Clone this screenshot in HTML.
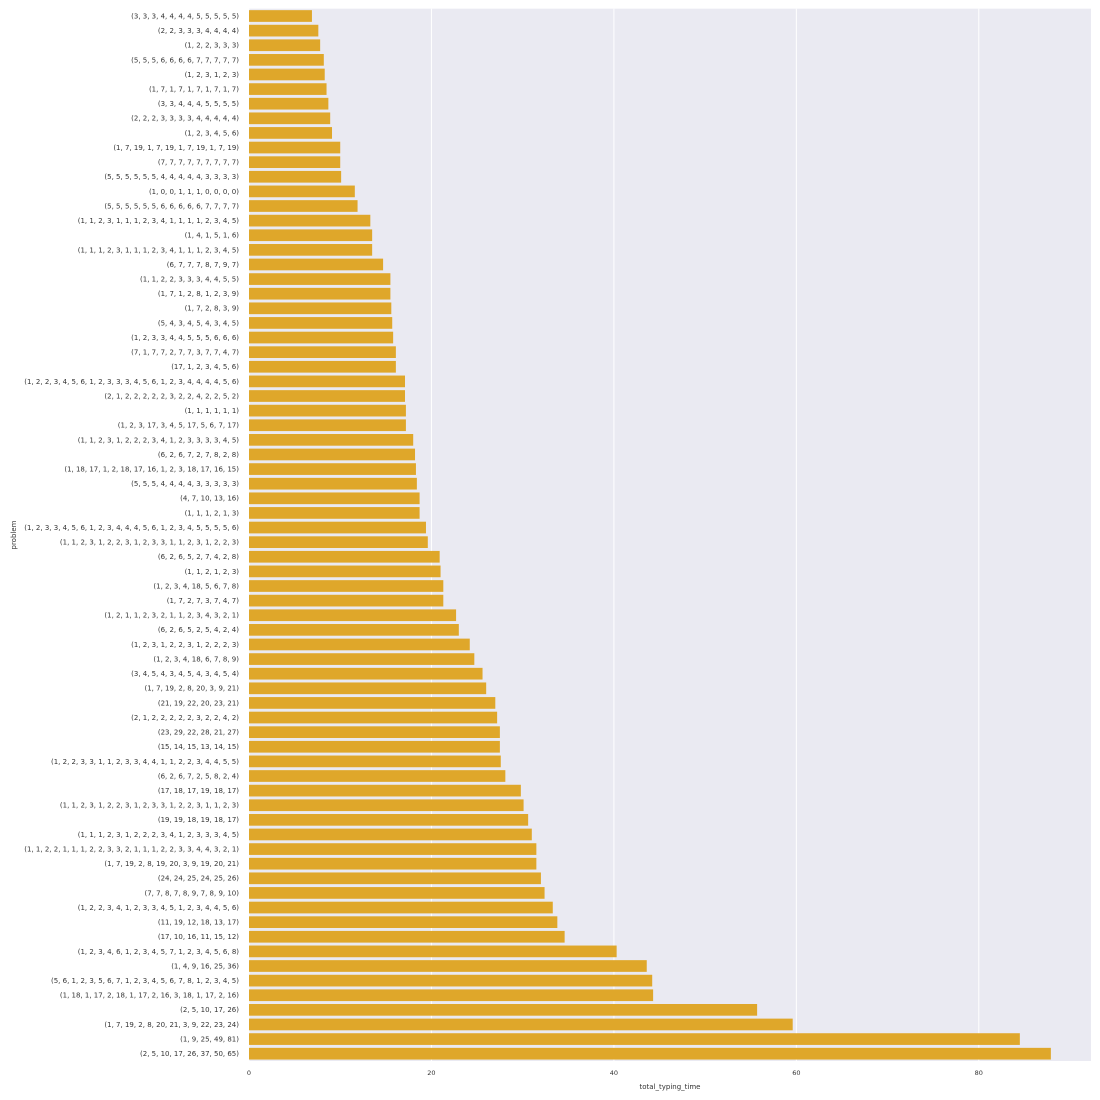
<!DOCTYPE html>
<html><head><meta charset="utf-8"><style>
body{margin:0;background:#fff}
svg{display:block;font-family:"DejaVu Sans","Liberation Sans",sans-serif}
</style></head><body>
<svg id="chart" width="1100" height="1100" viewBox="0 0 1100 1100" xmlns="http://www.w3.org/2000/svg"></svg>
<script>
const categories = ["(3, 3, 3, 4, 4, 4, 4, 5, 5, 5, 5, 5)","(2, 2, 3, 3, 3, 4, 4, 4, 4)","(1, 2, 2, 3, 3, 3)","(5, 5, 5, 6, 6, 6, 6, 7, 7, 7, 7, 7)","(1, 2, 3, 1, 2, 3)","(1, 7, 1, 7, 1, 7, 1, 7, 1, 7)","(3, 3, 4, 4, 4, 5, 5, 5, 5)","(2, 2, 2, 3, 3, 3, 3, 4, 4, 4, 4, 4)","(1, 2, 3, 4, 5, 6)","(1, 7, 19, 1, 7, 19, 1, 7, 19, 1, 7, 19)","(7, 7, 7, 7, 7, 7, 7, 7, 7)","(5, 5, 5, 5, 5, 5, 4, 4, 4, 4, 4, 3, 3, 3, 3)","(1, 0, 0, 1, 1, 1, 0, 0, 0, 0)","(5, 5, 5, 5, 5, 5, 6, 6, 6, 6, 6, 7, 7, 7, 7)","(1, 1, 2, 3, 1, 1, 1, 2, 3, 4, 1, 1, 1, 1, 2, 3, 4, 5)","(1, 4, 1, 5, 1, 6)","(1, 1, 1, 2, 3, 1, 1, 1, 2, 3, 4, 1, 1, 1, 2, 3, 4, 5)","(6, 7, 7, 7, 8, 7, 9, 7)",
"(1, 1, 2, 2, 3, 3, 3, 4, 4, 5, 5)","(1, 7, 1, 2, 8, 1, 2, 3, 9)","(1, 7, 2, 8, 3, 9)","(5, 4, 3, 4, 5, 4, 3, 4, 5)","(1, 2, 3, 3, 4, 4, 5, 5, 5, 6, 6, 6)","(7, 1, 7, 7, 2, 7, 7, 3, 7, 7, 4, 7)","(17, 1, 2, 3, 4, 5, 6)","(1, 2, 2, 3, 4, 5, 6, 1, 2, 3, 3, 3, 4, 5, 6, 1, 2, 3, 4, 4, 4, 4, 5, 6)","(2, 1, 2, 2, 2, 2, 2, 3, 2, 2, 4, 2, 2, 5, 2)","(1, 1, 1, 1, 1, 1)","(1, 2, 3, 17, 3, 4, 5, 17, 5, 6, 7, 17)","(1, 1, 2, 3, 1, 2, 2, 2, 3, 4, 1, 2, 3, 3, 3, 3, 4, 5)","(6, 2, 6, 7, 2, 7, 8, 2, 8)","(1, 18, 17, 1, 2, 18, 17, 16, 1, 2, 3, 18, 17, 16, 15)","(5, 5, 5, 4, 4, 4, 4, 3, 3, 3, 3, 3)","(4, 7, 10, 13, 16)","(1, 1, 1, 2, 1, 3)","(1, 2, 3, 3, 4, 5, 6, 1, 2, 3, 4, 4, 4, 5, 6, 1, 2, 3, 4, 5, 5, 5, 5, 6)",
"(1, 1, 2, 3, 1, 2, 2, 3, 1, 2, 3, 3, 1, 1, 2, 3, 1, 2, 2, 3)","(6, 2, 6, 5, 2, 7, 4, 2, 8)","(1, 1, 2, 1, 2, 3)","(1, 2, 3, 4, 18, 5, 6, 7, 8)","(1, 7, 2, 7, 3, 7, 4, 7)","(1, 2, 1, 1, 2, 3, 2, 1, 1, 2, 3, 4, 3, 2, 1)","(6, 2, 6, 5, 2, 5, 4, 2, 4)","(1, 2, 3, 1, 2, 2, 3, 1, 2, 2, 2, 3)","(1, 2, 3, 4, 18, 6, 7, 8, 9)","(3, 4, 5, 4, 3, 4, 5, 4, 3, 4, 5, 4)","(1, 7, 19, 2, 8, 20, 3, 9, 21)","(21, 19, 22, 20, 23, 21)","(2, 1, 2, 2, 2, 2, 2, 3, 2, 2, 4, 2)","(23, 29, 22, 28, 21, 27)","(15, 14, 15, 13, 14, 15)","(1, 2, 2, 3, 3, 1, 1, 2, 3, 3, 4, 4, 1, 1, 2, 2, 3, 4, 4, 5, 5)","(6, 2, 6, 7, 2, 5, 8, 2, 4)","(17, 18, 17, 19, 18, 17)",
"(1, 1, 2, 3, 1, 2, 2, 3, 1, 2, 3, 3, 1, 2, 2, 3, 1, 1, 2, 3)","(19, 19, 18, 19, 18, 17)","(1, 1, 1, 2, 3, 1, 2, 2, 2, 3, 4, 1, 2, 3, 3, 3, 4, 5)","(1, 1, 2, 2, 1, 1, 1, 2, 2, 3, 3, 2, 1, 1, 1, 2, 2, 3, 3, 4, 4, 3, 2, 1)","(1, 7, 19, 2, 8, 19, 20, 3, 9, 19, 20, 21)","(24, 24, 25, 24, 25, 26)","(7, 7, 8, 7, 8, 9, 7, 8, 9, 10)","(1, 2, 2, 3, 4, 1, 2, 3, 3, 4, 5, 1, 2, 3, 4, 4, 5, 6)","(11, 19, 12, 18, 13, 17)","(17, 10, 16, 11, 15, 12)","(1, 2, 3, 4, 6, 1, 2, 3, 4, 5, 7, 1, 2, 3, 4, 5, 6, 8)","(1, 4, 9, 16, 25, 36)","(5, 6, 1, 2, 3, 5, 6, 7, 1, 2, 3, 4, 5, 6, 7, 8, 1, 2, 3, 4, 5)","(1, 18, 1, 17, 2, 18, 1, 17, 2, 16, 3, 18, 1, 17, 2, 16)","(2, 5, 10, 17, 26)","(1, 7, 19, 2, 8, 20, 21, 3, 9, 22, 23, 24)","(1, 9, 25, 49, 81)","(2, 5, 10, 17, 26, 37, 50, 65)"];
const values = [6.9,7.6,7.8,8.2,8.3,8.5,8.7,8.9,9.1,10.0,10.0,10.1,11.6,11.9,13.3,13.5,13.5,14.7,15.5,15.5,15.6,15.7,15.8,16.1,16.1,17.1,17.1,17.2,17.2,18.0,18.2,18.3,18.4,18.7,18.7,19.4,19.6,20.9,21.0,21.3,21.3,22.7,23.0,24.2,24.7,25.6,26.0,27.0,27.2,27.5,27.5,27.6,28.1,29.8,30.1,30.6,31.0,31.5,31.5,32.0,32.4,33.3,33.8,34.6,40.3,43.6,44.2,44.3,55.7,59.6,84.5,87.9];
const xTicks = [0,20,40,60,80];

const svg = document.getElementById('chart');
const NS = 'http://www.w3.org/2000/svg';
const L=249, R=1091, T=8.7, B=1061, XMAX=92.3;
const x = v => L + v/XMAX*(R-L);
const band = (B-T)/categories.length;
const y = i => T + band*i;
function mk(tag, attrs, parent){const e=document.createElementNS(NS,tag);for(const k in attrs)e.setAttribute(k,attrs[k]);(parent||svg).appendChild(e);return e;}

const bg = mk('rect',{x:L,y:T,width:R-L,height:B-T,fill:'#eaeaf2'});



xTicks.forEach(t=>{
  const g = mk('line',{x1:x(t),x2:x(t),y1:T,y2:B,stroke:'#fff','stroke-width':1});
  
  
  const tl = mk('text',{x:x(t),y:1075,'font-size':6.5,fill:'#333','text-anchor':'middle'});
  tl.textContent=t;
  
  
});

categories.forEach((c,i)=>{
  const r = mk('rect',{x:L,y:y(i)+band*0.1,width:x(values[i])-L,height:band*0.8,fill:'#dfa72a'});
  
  
  const t = mk('text',{x:239,y:y(i)+band/2+2.4,'font-size':7,fill:'#333','text-anchor':'end'});
  t.textContent=c;
  
  
});

const xt = mk('text',{x:670,y:1089,'font-size':7,fill:'#333','text-anchor':'middle'});
xt.textContent='total_typing_time';


const yt = mk('text',{x:0,y:0,'font-size':7,fill:'#333','text-anchor':'middle',transform:'translate(16,535) rotate(-90)'});
yt.textContent='problem';


</script>
</body></html>
